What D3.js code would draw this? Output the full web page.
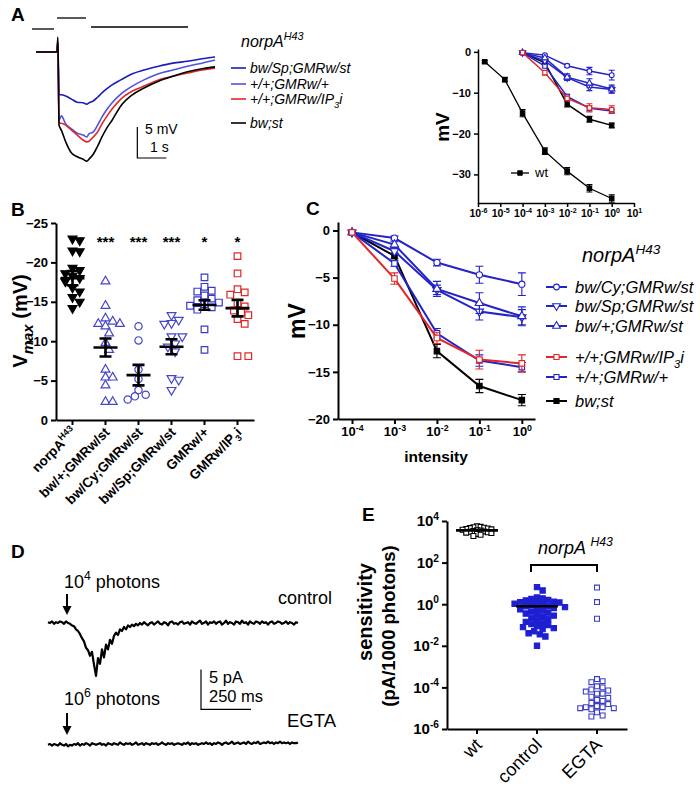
<!DOCTYPE html>
<html><head><meta charset="utf-8">
<script src="https://cdn.jsdelivr.net/npm/d3@7"></script>
<style>
body{margin:0;background:#fff;}
svg{display:block;font-family:"Liberation Sans",Arial,Helvetica,sans-serif;}
</style></head><body>
<svg id="fig" width="700" height="787"></svg>
<script>
// ================= DATA =================
// Panel A: voltage traces (time in s from flash, mV)
const traceTimeA = [-0.72,0,0.03,0.07,0.15,0.3,0.5,0.7,0.9,1.03,1.1,1.25,1.4,1.55,1.7,1.9,2.2,2.6,3.0,3.5,4.0,4.5,5.0,5.45];
const traceBwSt   = [0,0,2.4,-11.8,-12.6,-14.5,-16.3,-16.9,-17.3,-17.6,-17.3,-16.5,-15.2,-13.7,-12.4,-11.0,-8.7,-6.9,-5.8,-4.7,-3.9,-3.2,-2.7,-2.4];
const traceIP3i   = [0,0,1.9,-11.5,-11.5,-11.8,-12.6,-13.4,-14.2,-14.5,-14.4,-13.7,-12.9,-11.6,-10.5,-9.2,-7.6,-6.3,-5.5,-4.5,-3.9,-3.4,-2.9,-2.6];
const traceGMRw   = [0,0,1.6,-11.0,-10.3,-11.6,-12.4,-13.1,-13.4,-13.7,-13.2,-12.9,-11.8,-10.5,-9.4,-8.2,-6.8,-5.5,-4.5,-3.5,-2.9,-2.3,-1.8,-1.3];
const traceBwSp   = [0,0,1.6,-6.9,-6.9,-7.1,-7.6,-8.1,-8.2,-8.4,-8.2,-7.9,-7.3,-6.6,-6.0,-5.3,-4.5,-3.5,-2.9,-2.3,-1.8,-1.5,-1.1,-0.8];

// Panel A inset: wt intensity-response
const wtIntensity = [2e-6,1.6e-5,1e-4,1e-3,1e-2,1e-1,1];
const wtMean = [-2.4,-6.8,-15.0,-24.3,-29.2,-33.4,-35.9];
const wtSem  = [0.3,0.5,0.9,0.8,0.9,0.9,0.9];

// Panel C: intensity-response of norpA genotypes
const intensityC = [1e-4,1e-3,1e-2,1e-1,1];
const seriesNames = ["bw/Cy;GMRw/st","bw/Sp;GMRw/st","bw/+;GMRw/st","+/+;GMRw/IP3i","+/+;GMRw/+","bw;st"];
const meanBwCy  = [-0.2,-0.8,-3.4,-4.7,-5.7];
const semBwCy   = [0.2,0.2,0.35,0.9,1.2];
const meanBwSp  = [-0.2,-2.2,-6.3,-8.6,-9.2];
const semBwSp   = [0.2,0.3,0.5,0.9,0.8];
const meanBwPl  = [-0.2,-1.5,-6.2,-7.7,-9.1];
const semBwPl   = [0.2,0.3,0.8,1.1,1.0];
const meanIP3i  = [-0.2,-5.1,-11.4,-13.7,-14.1];
const semIP3i   = [0.2,0.6,0.6,1.0,0.9];
const meanGMRw  = [-0.2,-3.5,-10.9,-13.8,-14.5];
const semGMRw   = [0.2,0.3,0.5,0.6,0.5];
const meanBwStC = [-0.2,-2.7,-12.8,-16.5,-18.0];
const semBwStC  = [0.2,0.3,0.7,0.7,0.6];

// Panel B: Vmax scatter
const catsB = ["norpA","bw/+;GMRw/st","bw/Cy;GMRw/st","bw/Sp;GMRw/st","GMRw/+","GMRw/IP3i"];
const ptsNorpA  = [-23.0,-22.8,-21.5,-21.4,-19.3,-19.0,-18.6,-18.3,-18.0,-17.6,-16.8,-16.3,-15.6,-15.0,-14.2];
const ptsBwPlus = [-17.6,-14.5,-12.9,-12.5,-12.2,-12.2,-11.9,-11.0,-9.8,-8.9,-6.4,-5.4,-5.4,-4.4,-2.3,-2.3];
const ptsBwCy   = [-11.9,-10.1,-6.4,-5.2,-3.8,-3.2,-3.0,-2.6];
const ptsBwSp   = [-13.3,-12.7,-12.3,-12.2,-10.6,-10.6,-9.7,-9.3,-8.7,-5.3,-5.1,-3.8];
const ptsGMRwB  = [-18.1,-16.9,-16.4,-16.3,-15.8,-15.4,-15.2,-14.9,-14.7,-14.5,-14.3,-14.0,-11.5,-8.9];
const ptsIP3iB  = [-20.8,-18.6,-16.6,-16.2,-15.9,-14.8,-14.4,-13.9,-13.6,-13.3,-12.8,-12.2,-8.1,-8.1];
const meansB = [-18.0,-9.2,-5.7,-9.3,-14.6,-14.2];
const semB   = [0.9,1.15,1.3,0.95,0.6,1.05];
const starsB = ["","***","***","***","*","*"];

// Panel D: whole-cell current traces (pA, sampled every 10 ms)
const currentControl = [0.1,0.0,0.2,-0.1,0.1,0.0,0.2,0.1,-0.1,0.2,0.0,-0.1,-0.3,-0.4,-0.8,-1.0,-1.4,-1.9,-2.3,-3.1,
 -3.4,-4.1,-3.6,-5.2,-6.6,-4.4,-5.1,-3.3,-4.3,-2.7,-3.3,-2.1,-2.6,-1.6,-1.2,-1.5,-0.8,-1.0,-0.5,-0.8,
 -0.3,-0.5,-0.2,-0.4,-0.1,-0.3,
 0.0,-0.2,0.1,-0.1,-0.3,0.0,0.1,-0.2,0.0,0.2,-0.1,-0.2,0.1,0.0,-0.3,0.1,0.2,-0.1,0.0,-0.2,
 0.1,0.2,-0.1,0.0,0.1,-0.2,0.2,0.0,-0.1,0.1,0.3,-0.1,0.0,0.2,-0.2,0.1,0.0,0.2,-0.1,0.1,
 0.2,-0.2,0.0,0.3,-0.1,0.1,0.0,-0.2,0.2,0.1,-0.1,0.3,0.0,0.1,-0.2,0.2,0.0,-0.1,0.2,0.1,
 -0.1,0.2,0.0,0.1,-0.2,0.1,0.2,-0.1,0.0,0.2,0.1,-0.1,0.0,0.2,-0.1,0.1,0.0,-0.2,0.1,0.0];
const currentEGTA = [-0.1,0.0,-0.2,0.0,-0.1,-0.2,0.1,-0.1,-0.2,0.0,-0.3,-0.1,-0.2,0.0,-0.1,0.1,-0.2,0.0,-0.1,0.1,
 0.0,-0.2,0.1,0.0,-0.1,0.0,0.1,-0.1,0.0,-0.2,0.1,0.0,-0.1,0.1,0.0,-0.1,0.2,0.0,-0.1,0.1,
 0.0,0.1,-0.1,0.0,0.2,-0.1,0.0,0.1,-0.1,0.1,0.0,-0.1,0.1,0.0,0.1,-0.1,0.0,0.2,0.0,-0.1,
 0.1,0.0,0.1,-0.1,0.0,0.1,0.0,-0.1,0.1,0.0,0.2,-0.1,0.1,0.0,0.1,-0.1,0.0,0.1,0.0,0.2,
 0.0,0.1,-0.1,0.1,0.0,0.2,0.1,-0.1,0.1,0.2,0.0,0.1,0.3,0.0,0.1,0.2,0.0,0.1,0.2,0.0,
 0.3,0.1,0.0,0.2,0.1,0.3,0.0,0.1,0.2,0.1,0.3,0.1,0.2,0.0,0.2,0.1,0.3,0.1,0.2,0.1,
 0.2,0.0,0.2,0.1,0.1,0.2];
const sampleMsD = 10;
const flashMsD = 95;

// Panel E: sensitivity (log10 of pA/1000 photons)
const catsE = ["wt","control","EGTA"];
const logSensWt = [3.75,3.72,3.7,3.68,3.66,3.64,3.62,3.6,3.58,3.56,3.54,3.52,3.5,3.48,3.46,3.44,3.42,3.38,3.34,3.28];
const logSensCtrl = [0.82,0.66,0.32,0.28,0.25,0.2,0.18,0.12,0.1,0.08,0.05,0.02,0.0,-0.03,-0.08,-0.1,-0.14,-0.18,-0.22,-0.25,-0.3,-0.35,-0.4,-0.45,-0.5,-0.55,-0.6,-0.65,-0.7,-0.78,-0.85,-0.9,-0.95,-1.0,-1.05,-1.1,-1.15,-1.2,-1.3,-1.4,-1.45,-1.55,-2.0];
const logSensEGTA = [0.8,0.1,-0.7,-3.6,-3.7,-3.75,-3.95,-4.0,-4.1,-4.15,-4.2,-4.3,-4.3,-4.45,-4.5,-4.6,-4.65,-4.75,-4.8,-4.9,-4.95,-4.95,-5.0,-5.0,-5.05,-5.2,-5.35,-5.4];
const logMeanE = [3.55,-0.1];

// ================= DRAWING =================
const svg = d3.select("#fig");
const BLUE = "#2323c8", LBLUE = "#5252dc", RED = "#e02828", OBLUE = "#4646c8";

function rich(textSel, parts, fs){
  let shift = 0;
  parts.forEach(p=>{
    const ts = textSel.append("tspan").text(p.t);
    let target = 0, size = p.size || fs;
    if(p.sup){target = -fs*0.42; size = fs*0.68;}
    if(p.sub){target = fs*0.28; size = p.size || fs*0.68;}
    ts.attr("font-size", size);
    if(target !== shift){ ts.attr("dy", target-shift); shift = target; }
    if(p.italic) ts.attr("font-style","italic");
  });
}
function styleAxis(g, w, fs){
  g.attr("font-family",null).attr("font-size",fs).attr("font-weight","bold");
  g.select(".domain").attr("stroke","#000").attr("stroke-width",w);
  g.selectAll(".tick line").attr("stroke","#000").attr("stroke-width",w);
  g.selectAll(".tick text").attr("fill","#000");
}
function powLabels(g, fs){
  g.selectAll(".tick text").each(function(d){
    const t = d3.select(this); const e = Math.round(Math.log10(d));
    t.text(null);
    rich(t, [{t:"10"},{t:String(e),sup:true}], fs);
  });
}
function marker(g, type, x, y, color, size, sw){
  let sym = d3.symbolCircle, rot = 0, fill = "#fff";
  if(type.startsWith("tri")) sym = d3.symbolTriangle;
  if(type.startsWith("tridown")) rot = 180;
  if(type.startsWith("sq")) sym = d3.symbolSquare;
  if(type.endsWith("f")) fill = color;
  g.append("path").attr("d", d3.symbol().type(sym).size(size)())
    .attr("transform",`translate(${x},${y}) rotate(${rot})`)
    .attr("fill", fill).attr("stroke", color).attr("stroke-width", sw||1.2);
}
function swarm(vals, yS, cx, step){
  const placed = [];
  return vals.map(v=>{
    const y = yS(v); let x = cx;
    for(let i=0;i<80;i++){
      const off = i===0?0:Math.ceil(i/2)*step*0.5*(i%2?1:-1);
      x = cx+off;
      if(!placed.some(p=>Math.hypot(p.x-x,p.y-y) < step)) break;
    }
    placed.push({x,y});
    return {x,y};
  });
}
function letter(t,x,y){ svg.append("text").attr("x",x).attr("y",y).attr("font-size",19).attr("font-weight","bold").text(t); }

// ---------- Panel A ----------
letter("A",11,21);
const gA = svg.append("g");
[[32,54,29],[57,86,18],[91,188,27]].forEach(s=>gA.append("line").attr("x1",s[0]).attr("x2",s[1]).attr("y1",s[2]).attr("y2",s[2]).attr("stroke","#000").attr("stroke-width",1.3));
const xA = d3.scaleLinear().domain([0,1]).range([57,86]);
const yA = d3.scaleLinear().domain([0,-5]).range([52,83]);
const lineA = d3.line().x((d,i)=>xA(traceTimeA[i])).y(d=>yA(d)).curve(d3.curveMonotoneX);
[[traceGMRw,LBLUE],[traceBwSp,"#1c1cb8"],[traceIP3i,RED],[traceBwSt,"#000"]].forEach(([arr,c])=>{
  gA.append("path").attr("d",lineA(arr)).attr("fill","none").attr("stroke",c).attr("stroke-width",1.6);
});
// scale bar
gA.append("path").attr("d",`M${xA(2.77)},${yA(-12.1)}V${yA(-17.1)}H${xA(3.77)}`).attr("fill","none").attr("stroke","#000").attr("stroke-width",1.2);
gA.append("text").attr("x",145).attr("y",134).attr("font-size",14).text("5 mV");
gA.append("text").attr("x",150).attr("y",152).attr("font-size",14).text("1 s");
// legend A
const tA = gA.append("text").attr("x",241).attr("y",47).attr("font-style","italic");
rich(tA,[{t:"norpA"},{t:"H43",sup:true}],16);
const legA = [["bw/Sp;GMRw/st","#1c1cb8",[{t:"bw/Sp;GMRw/st"}]],["+/+;GMRw/+",LBLUE,[{t:"+/+;GMRw/+"}]],["+/+;GMRw/IP3i",RED,[{t:"+/+;GMRw/IP"},{t:"3",sub:true},{t:"i"}]],["bw;st","#000",[{t:"bw;st"}]]];
const legAy = [68,84,99,123];
legA.forEach((l,i)=>{
  gA.append("line").attr("x1",231).attr("x2",246).attr("y1",legAy[i]).attr("y2",legAy[i]).attr("stroke",l[1]).attr("stroke-width",1.6);
  const t = gA.append("text").attr("x",250).attr("y",legAy[i]+5).attr("font-style","italic");
  rich(t,l[2],14);
});

// ---------- Inset ----------
const gI = svg.append("g");
const xI = d3.scaleLog().domain([1e-6,10]).range([478,634]);
const yI = d3.scaleLinear().domain([-37,0.7]).range([203,49]);
const axIx = gI.append("g").attr("transform","translate(0,203)").call(d3.axisBottom(xI).tickValues([1e-6,1e-5,1e-4,1e-3,1e-2,1e-1,1,10]).tickSize(4).tickSizeOuter(0));
styleAxis(axIx,1.5,10.5); powLabels(axIx,10.5);
const axIy = gI.append("g").attr("transform","translate(478,0)").call(d3.axisLeft(yI).tickValues([0,-10,-20,-30]).tickSize(4).tickSizeOuter(0));
styleAxis(axIy,1.5,11);
gI.append("text").attr("transform","translate(449,127) rotate(-90)").attr("text-anchor","middle").attr("font-size",19).attr("font-weight","bold").text("mV");

const seriesC = [
  {m:meanBwStC,s:semBwStC,c:"#000",mk:"sqf"},
  {m:meanGMRw,s:semGMRw,c:BLUE,mk:"sq"},
  {m:meanBwCy,s:semBwCy,c:BLUE,mk:"circle"},
  {m:meanBwSp,s:semBwSp,c:BLUE,mk:"tridown"},
  {m:meanBwPl,s:semBwPl,c:BLUE,mk:"tri"},
  {m:meanIP3i,s:semIP3i,c:RED,mk:"sq"}
];
function drawSeries(g, xs, ys, xv, m, s, c, mk, lw, cap, msize){
  const ln = d3.line().x((d,i)=>xs(xv[i])).y(d=>ys(d));
  g.append("path").attr("d",ln(m)).attr("fill","none").attr("stroke",c).attr("stroke-width",lw);
  m.forEach((v,i)=>{
    const x = xs(xv[i]);
    g.append("path").attr("d",`M${x},${ys(v-s[i])}V${ys(v+s[i])}M${x-cap},${ys(v-s[i])}H${x+cap}M${x-cap},${ys(v+s[i])}H${x+cap}`)
      .attr("stroke",c).attr("stroke-width",1.1).attr("fill","none");
    marker(g, mk, x, ys(v), c, msize, 1.1);
  });
}
drawSeries(gI,xI,yI,wtIntensity,wtMean,wtSem,"#000","sqf",1.3,3,20);
seriesC.forEach(sr=>drawSeries(gI,xI,yI,intensityC,sr.m,sr.s,sr.c,sr.mk,1.5,3,18));
gI.append("line").attr("x1",511).attr("x2",529).attr("y1",173).attr("y2",173).attr("stroke","#000").attr("stroke-width",1.3);
marker(gI,"sqf",520,173,"#000",20,1);
gI.append("text").attr("x",535).attr("y",177).attr("font-size",13).text("wt");

// ---------- Panel B ----------
letter("B",11,216);
const gB = svg.append("g");
const xB = d3.scaleBand().domain(catsB).range([56,254]);
const yB = d3.scaleLinear().domain([0,-25]).range([420,223]);
const axBy = gB.append("g").attr("transform","translate(56,0)").call(d3.axisLeft(yB).tickValues([0,-5,-10,-15,-20,-25]).tickSize(5).tickSizeOuter(0));
styleAxis(axBy,2,13);
const axBx = gB.append("g").attr("transform","translate(0,420)").call(d3.axisBottom(xB).tickSize(5).tickSizeOuter(0));
styleAxis(axBx,2,13); axBx.selectAll(".tick text").remove();
const labB = [[{t:"norpA"},{t:"H43",sup:true}],[{t:"bw/+;GMRw/st"}],[{t:"bw/Cy;GMRw/st"}],[{t:"bw/Sp;GMRw/st"}],[{t:"GMRw/+"}],[{t:"GMRw/IP"},{t:"3",sub:true},{t:"i"}]];
catsB.forEach((c,i)=>{
  const cx = xB(c)+xB.bandwidth()/2;
  const t = gB.append("text").attr("transform",`translate(${cx+5},${433}) rotate(-45)`).attr("text-anchor","end").attr("font-weight","bold");
  rich(t,labB[i],13.5);
  gB.append("text").attr("x",cx).attr("y",247).attr("text-anchor","middle").attr("font-size",15).attr("font-weight","bold").text(starsB[i]);
});
const ptsB = [ptsNorpA,ptsBwPlus,ptsBwCy,ptsBwSp,ptsGMRwB,ptsIP3iB];
const mkB = ["tridownf","tri","circle","tridown","sq","sq"];
const colB = ["#000",OBLUE,OBLUE,OBLUE,"#3a3ac8",RED];
const sizeB = [34,34,42,34,44,44];
ptsB.forEach((arr,i)=>{
  const cx = xB(catsB[i])+xB.bandwidth()/2;
  swarm(arr,yB,cx,7.2).forEach(p=>marker(gB,mkB[i],p.x,p.y,colB[i],sizeB[i],1.2));
});
meansB.forEach((m,i)=>{
  const cx = xB(catsB[i])+xB.bandwidth()/2;
  gB.append("path").attr("d",`M${cx-12},${yB(m)}H${cx+12}M${cx},${yB(m-semB[i])}V${yB(m+semB[i])}M${cx-6},${yB(m-semB[i])}H${cx+6}M${cx-6},${yB(m+semB[i])}H${cx+6}`)
    .attr("stroke","#000").attr("stroke-width",2.6).attr("fill","none");
});
const tBy = gB.append("text").attr("transform","translate(27,321) rotate(-90)").attr("text-anchor","middle").attr("font-weight","bold");
rich(tBy,[{t:"V"},{t:"max",sub:true,italic:true,size:15},{t:" (mV)"}],20);

// ---------- Panel C ----------
letter("C",306,215);
const gC = svg.append("g");
const xC = d3.scaleLog().domain([Math.pow(10,-4.33),Math.pow(10,0.31)]).range([338,535]);
const yC = d3.scaleLinear().domain([-20,0.9]).range([419,222]);
const axCx = gC.append("g").attr("transform","translate(0,419)").call(d3.axisBottom(xC).tickValues(intensityC).tickSize(5).tickSizeOuter(0));
styleAxis(axCx,2,13); powLabels(axCx,13);
const axCy = gC.append("g").attr("transform","translate(338,0)").call(d3.axisLeft(yC).tickValues([0,-5,-10,-15,-20]).tickSize(5).tickSizeOuter(0));
styleAxis(axCy,2,13);
gC.append("text").attr("x",436).attr("y",462).attr("text-anchor","middle").attr("font-size",15.5).attr("font-weight","bold").text("intensity");
gC.append("text").attr("transform","translate(305,321) rotate(-90)").attr("text-anchor","middle").attr("font-size",23).attr("font-weight","bold").text("mV");
seriesC.forEach(sr=>drawSeries(gC,xC,yC,intensityC,sr.m,sr.s,sr.c,sr.mk,2,4,30));
const tC = gC.append("text").attr("x",582).attr("y",262).attr("font-style","italic");
rich(tC,[{t:"norpA"},{t:"H43",sup:true}],20);
const legC = [
  [BLUE,"circle",[{t:"bw/Cy;GMRw/st"}]],
  [BLUE,"tridown",[{t:"bw/Sp;GMRw/st"}]],
  [BLUE,"tri",[{t:"bw/+;GMRw/st"}]],
  [RED,"sq",[{t:"+/+;GMRw/IP"},{t:"3",sub:true},{t:"i"}]],
  [BLUE,"sq",[{t:"+/+;GMRw/+"}]],
  ["#000","sqf",[{t:"bw;st"}]]
];
const legCy = [287,306,326,357,377,401];
legC.forEach((l,i)=>{
  gC.append("line").attr("x1",546).attr("x2",567).attr("y1",legCy[i]).attr("y2",legCy[i]).attr("stroke",l[0]).attr("stroke-width",2);
  marker(gC,l[1],556.5,legCy[i],l[0],26,1.1);
  const t = gC.append("text").attr("x",575).attr("y",legCy[i]+6).attr("font-style","italic");
  rich(t,l[2],16.5);
});

// ---------- Panel D ----------
letter("D",11,558);
const gD = svg.append("g");
const xD = d3.scaleLinear().domain([0,1250]).range([48,298]);
const yDc = d3.scaleLinear().domain([-10,0]).range([703,623]);
const yDe = d3.scaleLinear().domain([-10,0]).range([824,744]);
const lineDc = d3.line().x((d,i)=>xD(i*sampleMsD)).y(d=>yDc(d));
const lineDe = d3.line().x((d,i)=>xD(i*sampleMsD)).y(d=>yDe(d));
gD.append("path").attr("d",lineDc(currentControl)).attr("fill","none").attr("stroke","#000").attr("stroke-width",2.2).attr("stroke-linejoin","round");
gD.append("path").attr("d",lineDe(currentEGTA)).attr("fill","none").attr("stroke","#000").attr("stroke-width",2.2).attr("stroke-linejoin","round");
function arrow(x,y1,y2){
  gD.append("line").attr("x1",x).attr("x2",x).attr("y1",y1).attr("y2",y2-6).attr("stroke","#000").attr("stroke-width",2);
  gD.append("path").attr("d",`M${x-4.5},${y2-9}L${x+4.5},${y2-9}L${x},${y2}Z`).attr("fill","#000");
}
arrow(xD(flashMsD),594,615);
arrow(xD(flashMsD),713,735);
const t4 = gD.append("text").attr("x",64).attr("y",588); rich(t4,[{t:"10"},{t:"4",sup:true},{t:" photons"}],18);
const t6 = gD.append("text").attr("x",64).attr("y",705); rich(t6,[{t:"10"},{t:"6",sup:true},{t:" photons"}],18);
gD.append("text").attr("x",278).attr("y",604).attr("font-size",18).text("control");
gD.append("text").attr("x",287).attr("y",727).attr("font-size",18.5).text("EGTA");
gD.append("path").attr("d",`M201,${yDc(-5.8)}V${yDc(-10.8)}H${201+xD(250)-xD(0)}`).attr("fill","none").attr("stroke","#000").attr("stroke-width",1.2);
gD.append("text").attr("x",209).attr("y",683).attr("font-size",16.5).text("5 pA");
gD.append("text").attr("x",209).attr("y",702).attr("font-size",16.5).text("250 ms");

// ---------- Panel E ----------
letter("E",362,521);
const gE = svg.append("g");
const xE = d3.scaleBand().domain(catsE).range([447,627]);
const yE = d3.scaleLog().domain([1e-6,1e4]).range([729,521]);
const axEy = gE.append("g").attr("transform","translate(447,0)").call(d3.axisLeft(yE).tickValues([1e4,1e2,1,1e-2,1e-4,1e-6]).tickSize(5).tickSizeOuter(0));
styleAxis(axEy,2,15); powLabels(axEy,15);
const axEx = gE.append("g").attr("transform","translate(0,729)").call(d3.axisBottom(xE).tickSize(5).tickSizeOuter(0));
styleAxis(axEx,2,15); axEx.selectAll(".tick text").remove();
catsE.forEach(c=>{
  const cx = xE(c)+xE.bandwidth()/2;
  gE.append("text").attr("transform",`translate(${cx+6},${746}) rotate(-45)`).attr("text-anchor","end").attr("font-size",18).text(c);
});
gE.append("text").attr("transform","translate(372,612) rotate(-90)").attr("text-anchor","middle").attr("font-size",20).attr("font-weight","bold").text("sensitivity");
gE.append("text").attr("transform","translate(395,626) rotate(-90)").attr("text-anchor","middle").attr("font-size",18.5).attr("font-weight","bold").text("(pA/1000 photons)");
const ptsE = [logSensWt,logSensCtrl,logSensEGTA];
const mkE = [["sq","#000",24,3.6],["sqf","#1e1ed2",28,5.6],["sq","#3c3cc8",24,5.6]];
ptsE.forEach((arr,i)=>{
  const cx = xE(catsE[i])+xE.bandwidth()/2;
  swarm(arr.map(v=>Math.pow(10,v)),yE,cx,mkE[i][3]).forEach(p=>marker(gE,mkE[i][0],p.x,p.y,mkE[i][1],mkE[i][2],1.1));
});
logMeanE.forEach((m,i)=>{
  const cx = xE(catsE[i])+xE.bandwidth()/2;
  gE.append("line").attr("x1",cx-21).attr("x2",cx+21).attr("y1",yE(Math.pow(10,m))).attr("y2",yE(Math.pow(10,m))).attr("stroke","#000").attr("stroke-width",2.6);
});
const bx1 = xE("control")+xE.bandwidth()/2-6, bx2 = xE("EGTA")+xE.bandwidth()/2;
gE.append("path").attr("d",`M${bx1},572V565H${bx2}V572`).attr("fill","none").attr("stroke","#000").attr("stroke-width",2);
const tE = gE.append("text").attr("x",538).attr("y",554).attr("font-style","italic");
rich(tE,[{t:"norpA "},{t:"H43",sup:true}],18);
</script>
</body></html>
